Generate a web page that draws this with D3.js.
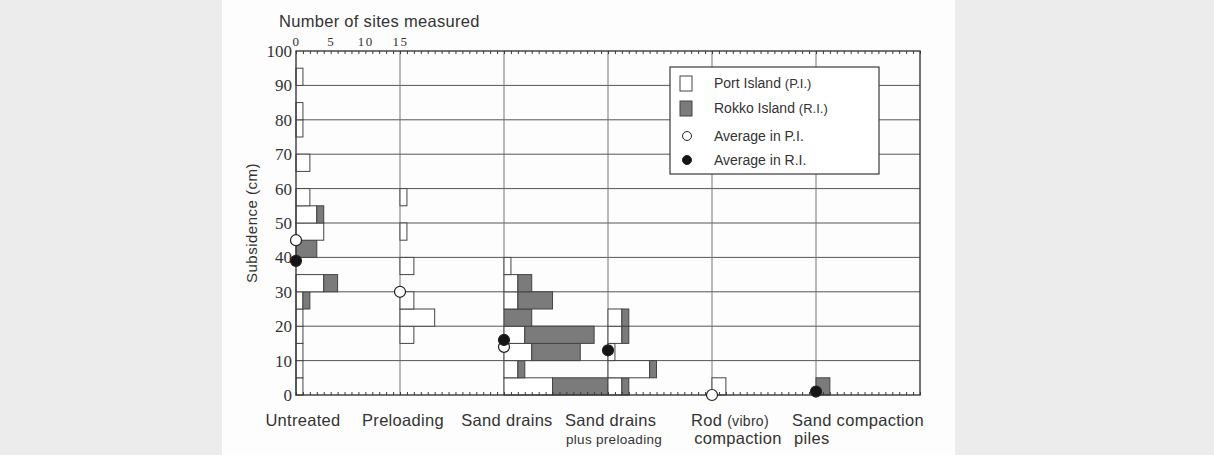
<!DOCTYPE html>
<html>
<head>
<meta charset="utf-8">
<script src="https://cdn.jsdelivr.net/npm/d3@7"></script>
<style>
  body { margin: 0; background: #ececec; }
  svg { display: block; }
</style>
</head>
<body>
<svg id="chart" width="1214" height="455"></svg>
<script>
// methods along the bottom
const categories = ['Untreated', 'Preloading', 'Sand drains', 'Sand drains plus preloading', 'Rod (vibro) compaction', 'Sand compaction piles'];
// 5 cm bins: 0-5, 5-10, ... 95-100
const binStarts = d3.range(0, 100, 5);

// number of sites per bin, Port Island
const portIsland = [
    [1, 1, 1, 1, 1, 1, 4, 0, 0, 4, 3, 2, 0, 2, 0, 1, 1, 0, 1, 0],
    [0, 0, 0, 2, 5, 2, 0, 2, 0, 1, 0, 1, 0, 0, 0, 0, 0, 0, 0, 0],
    [7, 2, 4, 3, 0, 2, 2, 1, 0, 0, 0, 0, 0, 0, 0, 0, 0, 0, 0, 0],
    [2, 6, 1, 2, 2, 0, 0, 0, 0, 0, 0, 0, 0, 0, 0, 0, 0, 0, 0, 0],
    [2, 0, 0, 0, 0, 0, 0, 0, 0, 0, 0, 0, 0, 0, 0, 0, 0, 0, 0, 0],
    [0, 0, 0, 0, 0, 0, 0, 0, 0, 0, 0, 0, 0, 0, 0, 0, 0, 0, 0, 0]
];
// number of sites per bin, Rokko Island
const rokkoIsland = [
    [0, 0, 0, 0, 0, 1, 2, 0, 3, 0, 1, 0, 0, 0, 0, 0, 0, 0, 0, 0],
    [0, 0, 0, 0, 0, 0, 0, 0, 0, 0, 0, 0, 0, 0, 0, 0, 0, 0, 0, 0],
    [8, 1, 7, 10, 4, 5, 2, 0, 0, 0, 0, 0, 0, 0, 0, 0, 0, 0, 0, 0],
    [1, 1, 0, 1, 1, 0, 0, 0, 0, 0, 0, 0, 0, 0, 0, 0, 0, 0, 0, 0],
    [0, 0, 0, 0, 0, 0, 0, 0, 0, 0, 0, 0, 0, 0, 0, 0, 0, 0, 0, 0],
    [2, 0, 0, 0, 0, 0, 0, 0, 0, 0, 0, 0, 0, 0, 0, 0, 0, 0, 0, 0]
];

const avgPortIsland = [45, 30, 14, null, 0, null];
const avgRokkoIsland = [39, null, 16, 13, null, 1];

const countTicks = [0, 5, 10, 15];
const subsidenceTicks = d3.range(0, 101, 10);
const countsPerGroup = 15;

const svg = d3.select('#chart');

// paper area
svg.append('rect')
    .attr('x', 222).attr('y', 0)
    .attr('width', 733).attr('height', 455)
    .attr('fill', '#fdfdfd');

const x = d3.scaleLinear()
    .domain([0, countsPerGroup * categories.length])
    .range([296, 920]);
const y = d3.scaleLinear()
    .domain([0, 100])
    .range([395, 51]);

const ink = '#3a3a3a';
const labelFont = 'Liberation Sans, Arial, sans-serif';

// horizontal grid
svg.append('g')
    .selectAll('line')
    .data(subsidenceTicks.filter(d => d > 0 && d < 100))
    .join('line')
    .attr('x1', x(0)).attr('x2', x.range()[1])
    .attr('y1', d => y(d)).attr('y2', d => y(d))
    .attr('stroke', '#555')
    .attr('stroke-width', 1);

// group baselines
svg.append('g')
    .selectAll('line')
    .data(d3.range(1, categories.length))
    .join('line')
    .attr('x1', d => x(d * countsPerGroup)).attr('x2', d => x(d * countsPerGroup))
    .attr('y1', y(100)).attr('y2', y(0))
    .attr('stroke', '#777')
    .attr('stroke-width', 1);

// bars: white P.I. first, grey R.I. stacked after it
const bars = [];
categories.forEach((cat, i) => {
    binStarts.forEach((b, j) => {
        const p = portIsland[i][j];
        const r = rokkoIsland[i][j];
        const base = i * countsPerGroup;
        if (p > 0) bars.push({ x0: base, x1: base + p, y0: b, y1: b + 5, fill: '#ffffff' });
        if (r > 0) bars.push({ x0: base + p, x1: base + p + r, y0: b, y1: b + 5, fill: '#7b7b7b' });
    });
});

svg.append('g')
    .selectAll('rect')
    .data(bars)
    .join('rect')
    .attr('x', d => x(d.x0))
    .attr('y', d => y(d.y1))
    .attr('width', d => x(d.x1) - x(d.x0))
    .attr('height', d => y(d.y0) - y(d.y1))
    .attr('fill', d => d.fill)
    .attr('stroke', '#444')
    .attr('stroke-width', 1);

// frame
svg.append('rect')
    .attr('x', x(0)).attr('y', y(100))
    .attr('width', x.range()[1] - x(0))
    .attr('height', y(0) - y(100))
    .attr('fill', 'none')
    .attr('stroke', ink)
    .attr('stroke-width', 1.4);

// top count axis
const topAxis = svg.append('g')
    .attr('transform', `translate(0,${y(100)})`)
    .call(d3.axisTop(x)
        .tickValues(d3.range(0, countsPerGroup * categories.length + 1))
        .tickSizeInner(-3).tickSizeOuter(0)
        .tickPadding(5)
        .tickFormat(d => countTicks.includes(d) ? d : ''));
topAxis.select('.domain').remove();
topAxis.selectAll('line').attr('stroke', ink);
topAxis.selectAll('text')
    .attr('font-family', 'Liberation Serif, serif')
    .attr('font-size', 13)
    .attr('letter-spacing', 1.5)
    .attr('fill', '#333');

// bottom ticks
const bottomAxis = svg.append('g')
    .attr('transform', `translate(0,${y(0)})`)
    .call(d3.axisBottom(x)
        .tickValues(d3.range(0, countsPerGroup * categories.length + 1))
        .tickSizeInner(-3).tickSizeOuter(0)
        .tickFormat(''));
bottomAxis.select('.domain').remove();
bottomAxis.selectAll('line').attr('stroke', ink);

// y axis labels
const leftAxis = svg.append('g')
    .attr('transform', `translate(${x(0)},0)`)
    .call(d3.axisLeft(y).tickValues(subsidenceTicks).tickSize(0).tickPadding(4));
leftAxis.select('.domain').remove();
leftAxis.selectAll('text')
    .attr('font-family', 'Liberation Serif, serif')
    .attr('font-size', 17)
    .attr('fill', '#333');

// averages
const dots = [];
categories.forEach((cat, i) => {
    if (avgPortIsland[i] !== null) dots.push({ g: i, v: avgPortIsland[i], fill: '#ffffff' });
    if (avgRokkoIsland[i] !== null) dots.push({ g: i, v: avgRokkoIsland[i], fill: '#151515' });
});
svg.append('g')
    .selectAll('circle')
    .data(dots)
    .join('circle')
    .attr('cx', d => x(d.g * countsPerGroup))
    .attr('cy', d => y(d.v))
    .attr('r', 5.5)
    .attr('fill', d => d.fill)
    .attr('stroke', '#222')
    .attr('stroke-width', 1.2);

// titles
svg.append('text')
    .attr('x', 279).attr('y', 27)
    .attr('font-family', labelFont)
    .attr('font-size', 16.5)
    .attr('letter-spacing', 0.3)
    .attr('fill', '#333')
    .text('Number of sites measured');

svg.append('text')
    .attr('transform', `translate(257,${y(50)}) rotate(-90)`)
    .attr('text-anchor', 'middle')
    .attr('font-family', labelFont)
    .attr('font-size', 15)
    .attr('letter-spacing', 0.5)
    .attr('fill', '#333')
    .text('Subsidence (cm)');

// category labels
const catLabels = svg.append('g')
    .attr('font-family', labelFont)
    .attr('letter-spacing', 0.3)
    .attr('fill', '#333');

function addLabel(parts, tx, ty, anchor) {
    const t = catLabels.append('text')
        .attr('x', tx).attr('y', ty)
        .attr('text-anchor', anchor)
        .attr('font-size', 16.5);
    parts.forEach(p => t.append('tspan').attr('font-size', p.size || 16.5).text(p.text));
}

const gx = i => x(i * countsPerGroup);
addLabel([{ text: categories[0] }], gx(0) + 7, 426, 'middle');
addLabel([{ text: categories[1] }], gx(1) + 3, 426, 'middle');
addLabel([{ text: categories[2] }], gx(2) + 3, 426, 'middle');
addLabel([{ text: 'Sand drains' }], gx(3) - 43, 426, 'start');
addLabel([{ text: 'plus preloading', size: 13.5 }], gx(3) - 42, 444, 'start');
addLabel([{ text: 'Rod ' }, { text: '(vibro)', size: 14 }], gx(4) + 18, 426, 'middle');
addLabel([{ text: 'compaction' }], gx(4) + 26, 444, 'middle');
addLabel([{ text: 'Sand compaction' }], gx(5) - 24, 426, 'start');
addLabel([{ text: 'piles' }], gx(5) - 22, 444, 'start');

// legend
const legend = svg.append('g').attr('transform', 'translate(670,67)');
legend.append('rect')
    .attr('width', 209).attr('height', 107)
    .attr('fill', '#ffffff')
    .attr('stroke', ink)
    .attr('stroke-width', 1.2);

const legendItems = [
    { type: 'rect', fill: '#ffffff', parts: ['Port Island ', '(P.I.)'] },
    { type: 'rect', fill: '#7b7b7b', parts: ['Rokko Island  ', '(R.I.)'] },
    { type: 'circle', fill: '#ffffff', parts: ['Average in P.I.'] },
    { type: 'circle', fill: '#151515', parts: ['Average in R.I.'] }
];
const rowY = [16, 41, 69, 93];
legendItems.forEach((item, i) => {
    if (item.type === 'rect') {
        legend.append('rect')
            .attr('x', 10).attr('y', rowY[i] - 7)
            .attr('width', 12).attr('height', 15)
            .attr('fill', item.fill)
            .attr('stroke', '#444');
    } else {
        legend.append('circle')
            .attr('cx', 17).attr('cy', rowY[i])
            .attr('r', 4.5)
            .attr('fill', item.fill)
            .attr('stroke', '#222');
    }
    const t = legend.append('text')
        .attr('x', 44).attr('y', rowY[i] + 5)
        .attr('font-family', labelFont)
        .attr('font-size', 14)
        .attr('fill', '#333');
    item.parts.forEach((p, k) => t.append('tspan').attr('font-size', k === 1 ? 13 : 14).text(p));
});
</script>
</body>
</html>
